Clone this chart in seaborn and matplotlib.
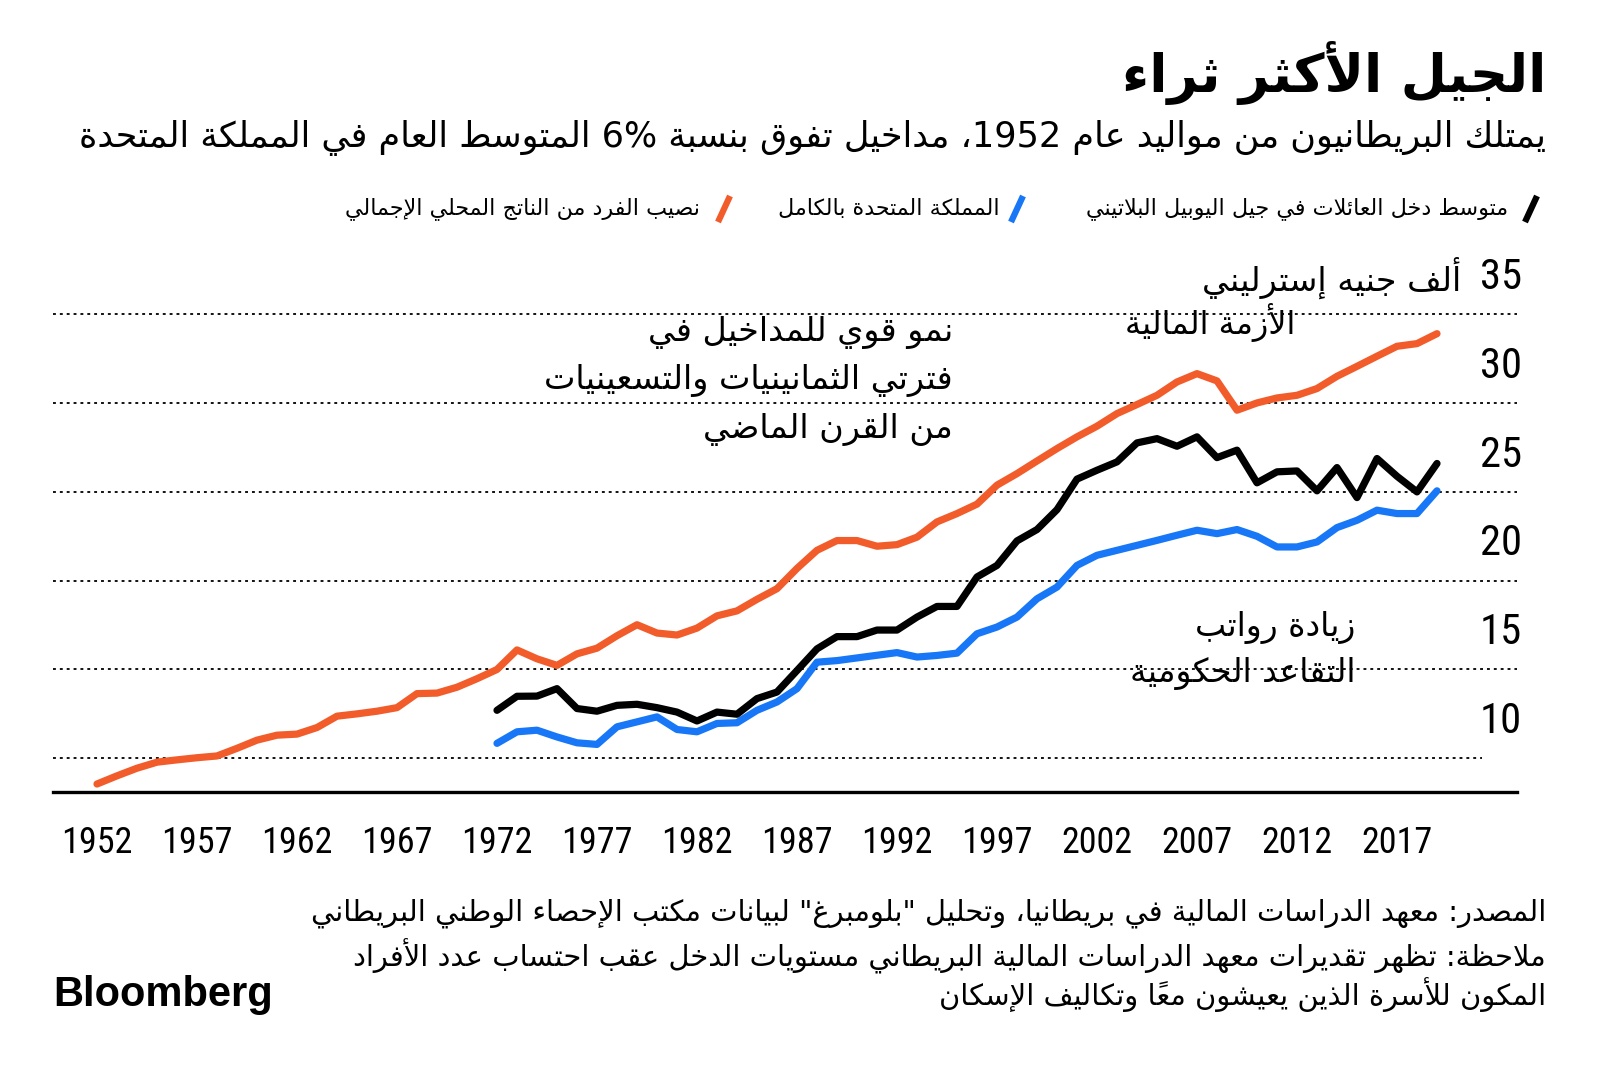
import re
import matplotlib
matplotlib.use("Agg")
import matplotlib.pyplot as plt
from matplotlib import font_manager as fm
from matplotlib.lines import Line2D
import seaborn as sns

# ---- data (thousand GBP) ----
gdp_years = list(range(1952, 2020))
gdp_per_head = [
    8.55, 9.01, 9.44, 9.78, 9.91, 10.03, 10.13, 10.56,
    11.02, 11.30, 11.36, 11.73, 12.37, 12.50, 12.65, 12.85, 13.64, 13.67,
    14.00, 14.48, 15.00, 16.10, 15.60, 15.23, 15.88, 16.20, 16.90, 17.52,
    17.05, 16.94, 17.33, 18.02, 18.30, 18.95, 19.55, 20.69, 21.71, 22.26,
    22.26, 21.94, 22.03, 22.45, 23.31, 23.78, 24.31, 25.38, 26.03, 26.74,
    27.44, 28.10, 28.70, 29.41, 29.92, 30.44, 31.19, 31.66, 31.25, 29.60,
    30.01, 30.29, 30.44, 30.82, 31.51, 32.07, 32.64, 33.20, 33.35, 33.91,
]
income_years = list(range(1972, 2020))
boomers = [
    12.70, 13.49, 13.50, 13.92, 12.80, 12.65, 12.98, 13.04, 12.85, 12.60,
    12.10, 12.60, 12.48, 13.36, 13.73, 14.94, 16.16, 16.85, 16.85, 17.22,
    17.22, 17.95, 18.55, 18.55, 20.21, 20.86, 22.24, 22.88, 24.00, 25.72,
    26.22, 26.69, 27.76, 28.00, 27.57, 28.10, 26.93, 27.35, 25.51, 26.13,
    26.18, 25.06, 26.37, 24.68, 26.88, 25.88, 25.00, 26.60,
]
uk_all = [
    10.84, 11.49, 11.58, 11.20, 10.87, 10.78, 11.77, 12.05, 12.33, 11.62,
    11.49, 11.96, 12.00, 12.70, 13.17, 13.92, 15.41, 15.50, 15.65, 15.80,
    15.95, 15.70, 15.79, 15.92, 17.01, 17.39, 17.95, 18.98, 19.64, 20.86,
    21.43, 21.71, 21.99, 22.27, 22.56, 22.84, 22.65, 22.88, 22.50, 21.90,
    21.90, 22.18, 22.99, 23.40, 23.97, 23.78, 23.78, 25.06,
]
x_ticks = list(range(1952, 2018, 5))
y_ticks = [10, 15, 20, 25, 30, 35]

title = "الجيل الأكثر ثراء"
subtitle = "يمتلك البريطانيون من مواليد عام 1952، مداخيل تفوق بنسبة 6% المتوسط العام في المملكة المتحدة"
legend_labels = ["متوسط دخل العائلات في جيل اليوبيل البلاتيني",
                 "المملكة المتحدة بالكامل",
                 "نصيب الفرد من الناتج المحلي الإجمالي"]
unit_label = "ألف جنيه إسترليني"
note_growth = ["نمو قوي للمداخيل في", "فترتي الثمانينيات والتسعينيات", "من القرن الماضي"]
note_crisis = "الأزمة المالية"
note_pension = ["زيادة رواتب", "التقاعد الحكومية"]
footer = ['المصدر: معهد الدراسات المالية في بريطانيا، وتحليل "بلومبرغ" لبيانات مكتب الإحصاء الوطني البريطاني',
          "ملاحظة: تظهر تقديرات معهد الدراسات المالية البريطاني مستويات الدخل عقب احتساب عدد الأفراد",
          "المكون للأسرة الذين يعيشون معاً وتكاليف الإسكان"]

ORANGE = "#F25C2B"
BLUE = "#1777F7"
BLACK = "#000000"

# ---- minimal Arabic shaping + right-to-left ordering (no reshaper lib here) ----
FORMS = {
    0x0621: (0xFE80, 1), 0x0622: (0xFE81, 2), 0x0623: (0xFE83, 2), 0x0624: (0xFE85, 2),
    0x0625: (0xFE87, 2), 0x0626: (0xFE89, 4), 0x0627: (0xFE8D, 2), 0x0628: (0xFE8F, 4),
    0x0629: (0xFE93, 2), 0x062A: (0xFE95, 4), 0x062B: (0xFE99, 4), 0x062C: (0xFE9D, 4),
    0x062D: (0xFEA1, 4), 0x062E: (0xFEA5, 4), 0x062F: (0xFEA9, 2), 0x0630: (0xFEAB, 2),
    0x0631: (0xFEAD, 2), 0x0632: (0xFEAF, 2), 0x0633: (0xFEB1, 4), 0x0634: (0xFEB5, 4),
    0x0635: (0xFEB9, 4), 0x0636: (0xFEBD, 4), 0x0637: (0xFEC1, 4), 0x0638: (0xFEC5, 4),
    0x0639: (0xFEC9, 4), 0x063A: (0xFECD, 4), 0x0641: (0xFED1, 4), 0x0642: (0xFED5, 4),
    0x0643: (0xFED9, 4), 0x0644: (0xFEDD, 4), 0x0645: (0xFEE1, 4), 0x0646: (0xFEE5, 4),
    0x0647: (0xFEE9, 4), 0x0648: (0xFEED, 2), 0x0649: (0xFEEF, 2), 0x064A: (0xFEF1, 4),
}
LAM_ALEF = {0x0622: 0xFEF5, 0x0623: 0xFEF7, 0x0625: 0xFEF9, 0x0627: 0xFEFB}
MARKS = set(range(0x064B, 0x0653))


def shape(text):
    cps = [ord(c) for c in text]
    n = len(cps)
    out = []
    i = 0
    while i < n:
        c = cps[i]
        if c not in FORMS:
            out.append(chr(c))
            i += 1
            continue
        j = i - 1
        while j >= 0 and cps[j] in MARKS:
            j -= 1
        joins_prev = j >= 0 and cps[j] in FORMS and FORMS[cps[j]][1] == 4
        k = i + 1
        while k < n and cps[k] in MARKS:
            k += 1
        nxt = cps[k] if k < n else None
        if c == 0x0644 and nxt in LAM_ALEF:
            out.append(chr(LAM_ALEF[nxt] + (1 if joins_prev else 0)))
            out.extend(chr(m) for m in cps[i + 1:k])
            i = k + 1
            continue
        base, nforms = FORMS[c]
        joins_next = nforms == 4 and nxt in FORMS and FORMS[nxt][1] >= 2
        if nforms == 1:
            joins_prev = joins_next = False
        if joins_prev and joins_next:
            g = base + 3
        elif joins_prev:
            g = base + 1
        elif joins_next:
            g = base + 2
        else:
            g = base
        out.append(chr(g))
        i += 1
    return "".join(out)


def ar(text):
    s = shape(text)
    tokens = re.findall(r"[0-9][0-9.]*%?|.[\u064B-\u0652]*", s)
    return "".join(reversed(tokens))


# pick a narrow latin face for the numbers if one is installed
def narrow_font():
    cands = []
    for f in fm.fontManager.ttflist:
        narrowish = ("Narrow" in f.name or "Condensed" in f.name
                     or f.stretch in ("condensed", "semi-condensed"))
        if narrowish and f.style == "normal" and f.weight in (400, "normal", "regular"):
            cands.append(f)
    if not cands:
        return fm.FontProperties(family=["Liberation Sans", "DejaVu Sans"])
    order = ["Liberation Sans Narrow", "Roboto Condensed", "Open Sans Condensed", "Noto Sans"]
    cands.sort(key=lambda f: order.index(f.name) if f.name in order else len(order))
    return fm.FontProperties(fname=cands[0].fname)


sns.set_style("white")
plt.rcParams["font.family"] = ["DejaVu Sans"]
plt.rcParams["text.color"] = "black"
NUM = narrow_font()

W, H = 1600, 1075
fig = plt.figure(figsize=(W / 100, H / 100), dpi=100)
ax = fig.add_axes([53 / W, 1 - 792 / H, (1517 - 53) / W, (792 - 278.8) / H])
renderer = fig.canvas.get_renderer()


def fit(texts, width):
    # scale font so the widest text gets the width measured on the reference
    w = max(t.get_window_extent(renderer).width for t in texts)
    for t in texts:
        t.set_fontsize(t.get_fontsize() * width / w)


def ftext(x, y, s, size=20, ha="right", **kw):
    return fig.text(x / W, 1 - y / H, s, fontsize=size, ha=ha, va="center", **kw)


# size the numbers so "1952" is as wide as on the reference (~71 px)
probe = fig.text(0, 0, "1952", fontproperties=NUM, fontsize=20)
num_size = min(20 * 71 / probe.get_window_extent(renderer).width, 29)
probe.remove()

for v in y_ticks:
    ax.axhline(v, xmax=1 if v > 10 else 0.976, color="black", lw=1.3,
               ls=(0, (1.6, 2.2)), zorder=1)

sns.lineplot(x=gdp_years, y=gdp_per_head, ax=ax, color=ORANGE, lw=5.2,
             solid_capstyle="round", zorder=3)
sns.lineplot(x=income_years, y=uk_all, ax=ax, color=BLUE, lw=5.2,
             solid_capstyle="round", zorder=3)
sns.lineplot(x=income_years, y=boomers, ax=ax, color=BLACK, lw=5.2,
             solid_capstyle="round", zorder=4)

ax.set_xlim(1949.8, 2023.0)
ax.set_ylim(8.1, 37.0)
ax.set_xticks(x_ticks)
ax.set_xticklabels([str(y) for y in x_ticks])
for t in ax.get_xticklabels():
    t.set_fontproperties(NUM)
    t.set_fontsize(num_size)
    t.set_color("black")
ax.set_yticks([])
ax.tick_params(axis="x", direction="out", length=16, width=2.2, pad=8, color="black")
ax.set_xlabel("")
ax.set_ylabel("")
for side in ["top", "right", "left"]:
    ax.spines[side].set_visible(False)
ax.spines["bottom"].set_linewidth(2.4)
ax.spines["bottom"].set_color("black")

# y labels sit just above their gridlines, right aligned
ytr = ax.get_yaxis_transform()
for v in y_ticks:
    ax.text(1.0035, v + 2.07, str(v), transform=ytr, ha="right", va="center",
            fontproperties=NUM, fontsize=num_size * 1.18)
unit = ax.text(2020.2, 35 + 2.07, ar(unit_label), ha="right", va="center", fontsize=20)
fit([unit], 258)

# annotations
g = [ax.text(1994.8, v, ar(s), ha="right", va="center", fontsize=20)
     for s, v in zip(note_growth, [34.0, 31.3, 28.5])]
fit(g, 406)
c = ax.text(2011.9, 34.55, ar(note_crisis), ha="right", va="center", fontsize=20)
fit([c], 170)
p = [ax.text(2014.9, v, ar(s), ha="right", va="center", fontsize=20)
     for s, v in zip(note_pension, [17.35, 14.8])]
fit(p, 225)

# title block
tt = ftext(1546, 73, ar(title), 36, fontweight="bold")
fit([tt], 424)
st = ftext(1546, 138, ar(subtitle), 20)
fit([st], 1469)

# legend
leg_colors = [BLACK, BLUE, ORANGE]
leg_slash_x = [1531, 1017, 724]
leg_text_x = [1508, 1000, 700]
leg = [ftext(x, 209, ar(s), 15) for x, s in zip(leg_text_x, legend_labels)]
w0 = leg[0].get_window_extent(renderer).width
for t in leg:
    t.set_fontsize(t.get_fontsize() * 424 / w0)
for x, col in zip(leg_slash_x, leg_colors):
    fig.add_artist(Line2D([(x - 6) / W, (x + 6) / W], [1 - 222 / H, 1 - 196 / H],
                          transform=fig.transFigure, color=col, lw=4.5,
                          solid_capstyle="butt"))

# footer
ft = [ftext(1546, y, ar(s), 16) for y, s in zip([913, 956, 995], footer)]
w0 = ft[0].get_window_extent(renderer).width
for t in ft:
    t.set_fontsize(t.get_fontsize() * 1235 / w0)

ftext(53, 995, "Bloomberg", 30, ha="left", fontweight="bold",
      family=["Liberation Sans", "DejaVu Sans"])

fig.savefig("out.png", dpi=100, facecolor="white")
